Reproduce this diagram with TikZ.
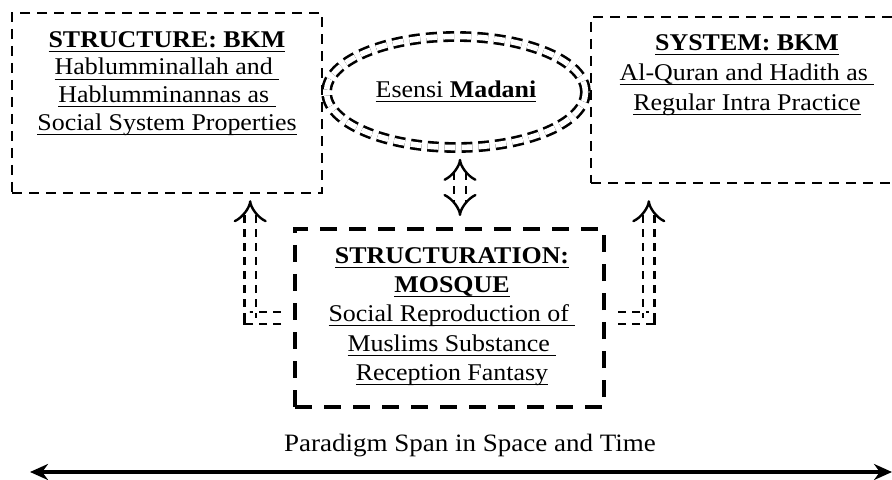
\documentclass[tikz,border=0pt]{standalone}
\usepackage{fontspec}
\setmainfont{Liberation Serif}[FakeStretch=1.08]
\usetikzlibrary{arrows.meta, shapes.geometric}

\newcommand{\undl}[1]{\underline{\smash{#1}\vrule width 0pt height 8pt depth 0.6pt}}

\tikzset{
	box/.style = {draw, line width=1.2pt, dash pattern=on 5pt off 3.5pt, inner sep=0pt},
	bigbox/.style = {draw, line width=2pt, dash pattern=on 8.5pt off 6pt, inner sep=0pt},
	boxtext/.style = {align=center, inner sep=0pt, anchor=north},
	link/.style = {line width=1.2pt, double, double distance=4.6pt, dash pattern=on 4pt off 3pt},
}

\begin{document}
\begin{tikzpicture}[x=0.5pt, y=-0.5pt]
	\useasboundingbox (0,0) rectangle (892,480);

	% the three boxes
	\node[box, minimum width=155pt, minimum height=90pt] (structure) at (167,103) {};
	\node[box, minimum width=157pt, minimum height=83pt] (system) at (748,100) {};
	\node[bigbox, minimum width=154.5pt, minimum height=89pt] (structuration) at (449.5,318) {};

	\node[boxtext, font=\fontsize{12}{13.8}\selectfont] (structureText) at (167,31)
		{\undl{\textbf{STRUCTURE: BKM}}\\ \undl{Hablumminallah and }\\ \undl{Hablumminannas as }\\ \undl{Social System Properties}};
	\node[boxtext, font=\fontsize{12}{15}\selectfont] (systemText) at (747,34)
		{\undl{\textbf{SYSTEM: BKM}}\\ \undl{Al-Quran and Hadith as }\\ \undl{Regular Intra Practice}};
	\node[boxtext, font=\fontsize{12}{14.6}\selectfont] (structurationText) at (452,247)
		{\undl{\textbf{STRUCTURATION:}}\\ \undl{\textbf{MOSQUE}}\\ \undl{Social Reproduction of }\\ \undl{Muslims Substance }\\ \undl{Reception Fantasy}};

	% the ellipse
	\node[ellipse, draw, line width=1.3pt, double, double distance=2.8pt, dash pattern=on 5.5pt off 3pt,
		minimum width=129.5pt, minimum height=55.5pt, inner sep=0pt, font=\fontsize{12}{13}\selectfont] (madani) at (456,92)
		{\undl{Esensi \textbf{Madani}}};

	% connectors
	\draw[link, -{Implies}, shorten <=6pt, shorten >=3pt] (structuration.west) -| ([xshift=-36.5pt]structure.south east);
	\draw[link, -{Implies}, shorten <=6pt, shorten >=8pt] (structuration.east) -| ([xshift=29.5pt]system.south west);
	\draw[link, {Implies}-{Implies}, shorten <=5pt, shorten >=5.5pt] ([xshift=2pt]madani.south) -- ([xshift=2pt]madani.south |- structuration.north);

	% time span
	\coordinate (spanStart) at (30,472);
	\coordinate (spanEnd) at (892,472);
	\draw[line width=2pt, {Stealth[length=9pt, width=8pt]}-{Stealth[length=9pt, width=8pt]}] (spanStart) -- (spanEnd);
	\node[font=\fontsize{12.5}{14}\selectfont] (span) at (470,446) {Paradigm Span in Space and Time};
\end{tikzpicture}
\end{document}
